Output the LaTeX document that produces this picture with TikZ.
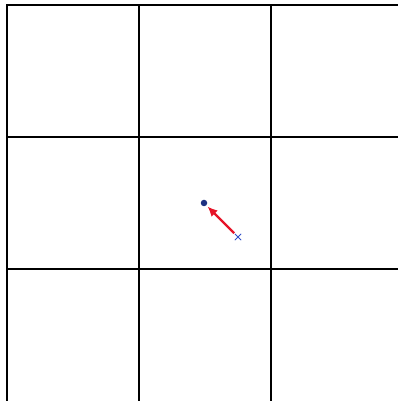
\documentclass[tikz,border=0pt]{standalone}
\usepackage{tikz}
\usetikzlibrary{arrows.meta,positioning,shapes.misc}
\definecolor{dotblue}{RGB}{30,50,130}
\definecolor{crossblue}{RGB}{50,80,200}
\definecolor{arrowred}{RGB}{230,20,40}

\begin{document}
\begin{tikzpicture}[x=1pt,y=1pt]
    \useasboundingbox (0,0) rectangle (398,401);
    % Grid
    \foreach \x in {7,139,271}
        \draw[line width=1.4pt] (\x,0) -- (\x,396);
    \foreach \y in {396,264,132}
        \draw[line width=1.4pt] (6.3,\y) -- (398,\y);

    % Points
    \node[circle,fill=dotblue,inner sep=0pt,minimum size=6.5pt] (dot) at (204,198) {};
    \node[cross out,draw=crossblue,line width=0.8pt,inner sep=0pt,minimum size=5.5pt] (cross) at (238,164) {};

    % Arrow
    \draw[arrowred,line width=2.4pt,-{Latex[length=10pt,width=9pt]},shorten <=1pt,shorten >=1.5pt] (cross) -- (dot);
\end{tikzpicture}
\end{document}
